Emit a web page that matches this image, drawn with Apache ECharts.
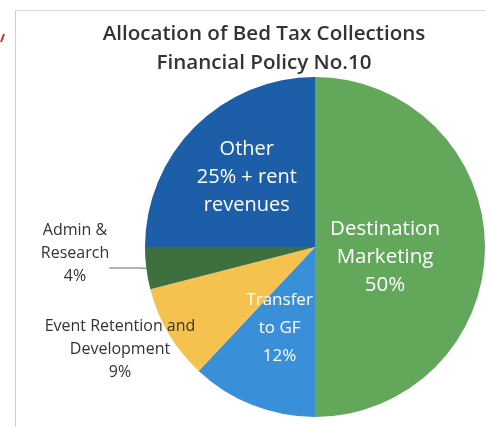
<!DOCTYPE html>
<html><head><meta charset="utf-8">
<script src="https://cdn.jsdelivr.net/npm/echarts@6/dist/echarts.min.js"></script>
<style>html,body{margin:0;padding:0;background:#fff}#c{width:486px;height:427px}</style>
</head><body><div id="c"></div>
<script>
var categories = ['Destination\nMarketing\n50%', 'Transfer\nto GF\n12%', 'Event Retention and\nDevelopment\n9%', 'Admin &\nResearch\n4%', 'Other\n25% + rent\nrevenues'];
var values = [50, 12, 9, 4, 25];
var colors = ['#63a75b', '#3a8fd9', '#f6c24f', '#3d6f3f', '#1d5ea9'];
var titleLines = ['Allocation of Bed Tax Collections', 'Financial Policy No.10'];

var FONT = '"Open Sans", sans-serif';
var chart = echarts.init(document.getElementById('c'), null, {renderer: 'canvas'});
var inside = {position: 'inside', color: '#fff', fontSize: 20, lineHeight: 28, fontFamily: FONT};
var labelCfg = [
  {position: 'inside', color: '#fff', fontSize: 20.5, lineHeight: 28, fontFamily: FONT},
  {position: 'inside', color: '#fff', fontSize: 17, lineHeight: 28, fontFamily: FONT},
  {position: 'outside', color: '#333', fontSize: 16, lineHeight: 23, fontFamily: FONT},
  {position: 'outside', color: '#333', fontSize: 16, lineHeight: 23, fontFamily: FONT,
   formatter: function (p) {
     return p.name.split('\n').map(function (l) { return '{a|' + l + '}'; }).join('\n') + '\n{s|\u00a0}';
   },
   rich: {
     a: {color: '#333', fontSize: 16, lineHeight: 23, fontFamily: FONT, align: 'center'},
     s: {fontSize: 10, lineHeight: 30}
   }},
  inside
];
var lineCfg = [false, false, false, true, false];
var data = categories.map(function (n, i) {
  return {
    name: n, value: values[i],
    itemStyle: {color: colors[i]},
    label: labelCfg[i],
    labelLine: {show: lineCfg[i], length: 10, length2: 30, lineStyle: {color: '#666', width: 1}}
  };
});
var layouts = [
  {dx: -18, dy: 10},
  {dx: -3, dy: -1},
  {x: 120, y: 349, align: 'center', verticalAlign: 'middle'},
  {x: 75, y: 268, align: 'center', verticalAlign: 'middle'},
  {dx: -6, dy: -7}
];
chart.setOption({
  animation: false,
  title: {
    text: titleLines.join('\n'), left: 259, top: 15, textAlign: 'center',
    textStyle: {fontFamily: FONT, fontSize: 20.6, fontWeight: 600, color: '#333', lineHeight: 29}
  },
  graphic: [
    {type: 'line', shape: {x1: 15.5, y1: 10, x2: 15.5, y2: 427}, style: {stroke: '#d0d0d0', lineWidth: 1}},
    {type: 'line', shape: {x1: 15, y1: 10.5, x2: 486, y2: 10.5}, style: {stroke: '#d8d8d8', lineWidth: 1}},
    {type: 'line', shape: {x1: 4, y1: 34, x2: 1, y2: 42}, style: {stroke: '#d22', lineWidth: 2}}
  ],
  series: [{
    type: 'pie', center: [315, 247], radius: 170, startAngle: 90, clockwise: true,
    avoidLabelOverlap: false,
    data: data,
    labelLayout: function (p) { return layouts[p.dataIndex]; }
  }]
});
</script></body></html>
